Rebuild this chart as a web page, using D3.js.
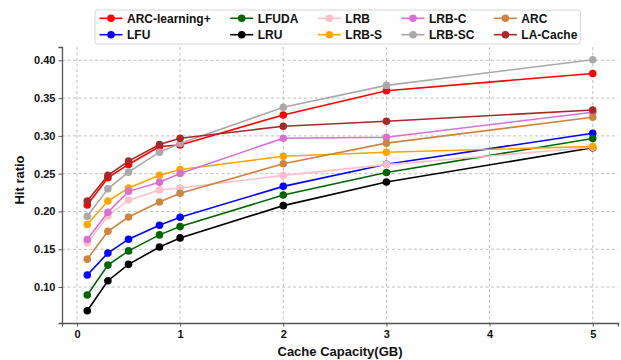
<!DOCTYPE html>
<html>
<head>
<meta charset="utf-8">
<script src="https://cdn.jsdelivr.net/npm/d3@7/dist/d3.min.js"></script>
<style>
  body { margin: 0; background: #fff; }
  svg text { font-family: "Liberation Sans", Arial, sans-serif; font-weight: bold; }
</style>
</head>
<body>
<div id="chart"></div>
<script>
"use strict";

// cache sizes (GB)
const capacities = [0.1, 0.3, 0.5, 0.8, 1, 2, 3, 5];

// hit ratio per policy, legend order
const arcLearningPlus = [0.2085, 0.2446, 0.2622, 0.2860, 0.2880, 0.3277, 0.3598, 0.3826];
const lfu      = [0.1160, 0.1450, 0.1633, 0.1818, 0.1923, 0.2332, 0.2625, 0.3035];
const lfuda    = [0.0894, 0.1290, 0.1478, 0.1690, 0.1800, 0.2217, 0.2515, 0.2965];
const lru      = [0.0687, 0.1084, 0.1300, 0.1530, 0.1650, 0.2077, 0.2389, 0.2842];
const lrb      = [0.1584, 0.1940, 0.2150, 0.2283, 0.2310, 0.2477, 0.2620, 0.2850];
const lrbS     = [0.1827, 0.2138, 0.2310, 0.2480, 0.2556, 0.2731, 0.2784, 0.2859];
const lrbC     = [0.1629, 0.1989, 0.2266, 0.2385, 0.2503, 0.2969, 0.2982, 0.3312];
const lrbSC    = [0.1936, 0.2300, 0.2520, 0.2784, 0.2900, 0.3378, 0.3668, 0.4007];
const arc      = [0.1369, 0.1738, 0.1927, 0.2125, 0.2240, 0.2631, 0.2904, 0.3246];
const laCache  = [0.2138, 0.2477, 0.2666, 0.2886, 0.2969, 0.3127, 0.3193, 0.3343];

const seriesNames = ["ARC-learning+", "LFU", "LFUDA", "LRU", "LRB", "LRB-S", "LRB-C", "LRB-SC", "ARC", "LA-Cache"];
const seriesValues = [arcLearningPlus, lfu, lfuda, lru, lrb, lrbS, lrbC, lrbSC, arc, laCache];
const seriesColors = ["#ff0000", "#0000ff", "#006400", "#000000", "#ffc0cb", "#ffa500", "#da70d6", "#a9a9a9", "#cd853f", "#a52a2a"];

const xTicks = [0, 1, 2, 3, 4, 5];
const yTicks = [0.10, 0.15, 0.20, 0.25, 0.30, 0.35, 0.40];

const width = 621, height = 360;
const margin = { top: 47, right: 3, bottom: 37, left: 62 };

const svg = d3.select("#chart").append("svg")
    .attr("width", width)
    .attr("height", height);

const x = d3.scaleLinear()
    .domain([-0.145, 5.245])
    .range([margin.left, width - margin.right]);

const y = d3.scaleLinear()
    .domain([0.0524, 0.4176])
    .range([height - margin.bottom, margin.top]);

// grid
const grid = svg.append("g").attr("stroke", "#b0b0b0").attr("stroke-width", 0.8).attr("stroke-dasharray", "3,2.5");
grid.selectAll(".gx").data(xTicks).join("line")
    .attr("x1", d => x(d)).attr("x2", d => x(d))
    .attr("y1", margin.top).attr("y2", height - margin.bottom);
grid.selectAll(".gy").data(yTicks).join("line")
    .attr("x1", margin.left).attr("x2", width - margin.right)
    .attr("y1", d => y(d)).attr("y2", d => y(d));

// axes
const xAxis = svg.append("g")
    .attr("transform", `translate(0,${height - margin.bottom})`)
    .call(d3.axisBottom(x).tickValues(xTicks).tickFormat(d3.format("d")).tickSize(3.5).tickPadding(3.5));
const yAxis = svg.append("g")
    .attr("transform", `translate(${margin.left},0)`)
    .call(d3.axisLeft(y).tickValues(yTicks).tickFormat(d3.format(".2f")).tickSize(3.5).tickPadding(3));

[xAxis, yAxis].forEach(a => {
    a.select(".domain").attr("stroke", "#555").attr("stroke-width", 1.3);
    a.selectAll(".tick line").attr("stroke", "#555").attr("stroke-width", 1);
    a.selectAll(".tick text").attr("font-size", "11px").attr("fill", "#111");
});

// axis titles
svg.append("text")
    .attr("x", (margin.left + width - margin.right) / 2)
    .attr("y", 356)
    .attr("text-anchor", "middle")
    .attr("font-size", "13px")
    .attr("fill", "#111")
    .text("Cache Capacity(GB)");

svg.append("text")
    .attr("transform", `translate(24,${(margin.top + height - margin.bottom) / 2 - 5}) rotate(-90)`)
    .attr("text-anchor", "middle")
    .attr("font-size", "13px")
    .attr("fill", "#111")
    .text("Hit ratio");

// lines + markers
const line = d3.line()
    .x((d, i) => x(capacities[i]))
    .y(d => y(d));

seriesValues.forEach((vals, s) => {
    const g = svg.append("g");
    g.append("path")
        .datum(vals)
        .attr("d", line)
        .attr("fill", "none")
        .attr("stroke", seriesColors[s])
        .attr("stroke-width", 1.6);
    g.selectAll("circle").data(vals).join("circle")
        .attr("cx", (d, i) => x(capacities[i]))
        .attr("cy", d => y(d))
        .attr("r", 3.8)
        .attr("fill", seriesColors[s]);
});

// legend (5 columns, 2 rows, column-major)
const legend = svg.append("g");
const box = legend.append("rect")
    .attr("x", 95).attr("y", 10)
    .attr("rx", 2.5)
    .attr("height", 34)
    .attr("fill", "#fff")
    .attr("fill-opacity", 0.9)
    .attr("stroke", "#d6d6d6")
    .attr("stroke-width", 1);

const rowY = [18.3, 34.7];
let colX = 99.5;
for (let c = 0; c < 5; c++) {
    let maxW = 0;
    for (let r = 0; r < 2; r++) {
        const s = c * 2 + r;
        legend.append("line")
            .attr("x1", colX).attr("x2", colX + 23)
            .attr("y1", rowY[r]).attr("y2", rowY[r])
            .attr("stroke", seriesColors[s]).attr("stroke-width", 1.6);
        legend.append("circle")
            .attr("cx", colX + 11.5).attr("cy", rowY[r]).attr("r", 3.8)
            .attr("fill", seriesColors[s]);
        const t = legend.append("text")
            .attr("x", colX + 27.5).attr("y", rowY[r])
            .attr("dy", "0.36em")
            .attr("font-size", "12px")
            .attr("fill", "#111")
            .text(seriesNames[s]);
        maxW = Math.max(maxW, t.node().getComputedTextLength());
    }
    colX += 27.5 + maxW + (c < 4 ? 19.5 : 0);
}
box.attr("width", colX + 3 - 95);
</script>
</body>
</html>
